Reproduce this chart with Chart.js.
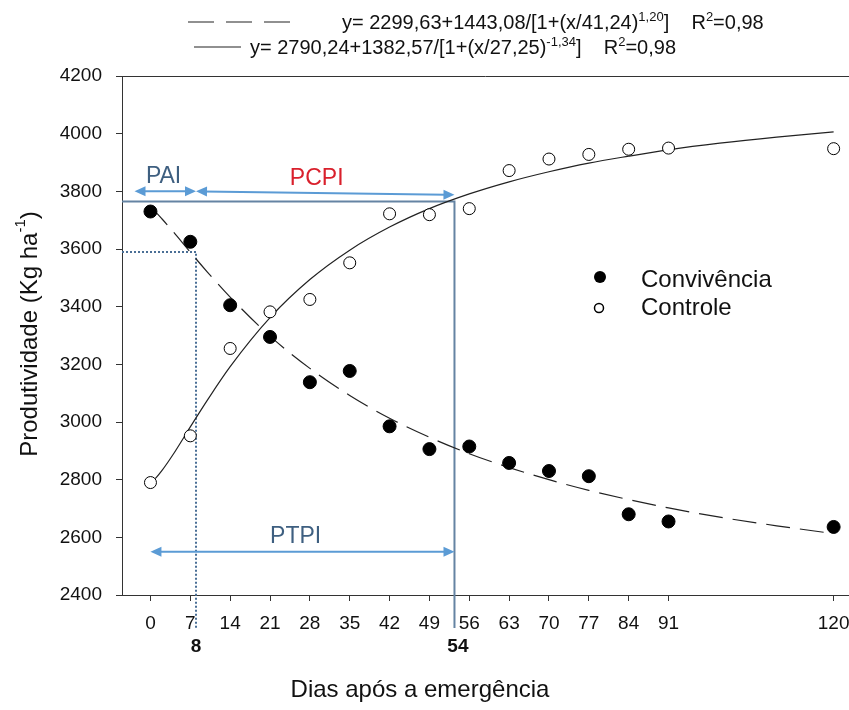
<!DOCTYPE html>
<html>
<head>
<meta charset="utf-8">
<script src="https://cdn.jsdelivr.net/npm/chart.js@4.4.0/dist/chart.umd.min.js"></script>
<style>
html, body { margin: 0; padding: 0; background: #fff; }
#wrap { width: 849px; height: 710px; }
</style>
</head>
<body>
<div id="wrap"><canvas id="chart" width="849" height="710"></canvas></div>
<script>
// observed points
const days = [0, 7, 14, 21, 28, 35, 42, 49, 56, 63, 70, 77, 84, 91, 120];
const convivencia = [3730, 3625, 3405, 3295, 3138, 3177, 2985, 2906, 2915, 2858, 2830, 2812, 2680, 2655, 2636];
const controle = [2790, 2952, 3255, 3382, 3425, 3552, 3722, 3719, 3740, 3872, 3912, 3928, 3946, 3950, 3948];

// fitted curves
const curveDays = [0, 1, 2, 4, 7, 10, 14, 21, 28, 35, 42, 49, 56, 63, 70, 77, 84, 91, 100, 110, 120];
const curveConvivencia = [3743, 3726, 3705, 3660, 3589, 3520, 3433, 3298, 3186, 3092, 3013, 2947, 2890, 2842, 2800, 2763, 2731, 2702, 2670, 2640, 2613];
const curveControle = [2790, 2807, 2831, 2888, 2983, 3076, 3192, 3362, 3494, 3596, 3676, 3740, 3791, 3833, 3868, 3898, 3922, 3944, 3967, 3988, 4006];

// axes
const xTickValues = [0, 7, 14, 21, 28, 35, 42, 49, 56, 63, 70, 77, 84, 91, 120];
const yMin = 2400, yMax = 4200, yStep = 200;

// critical periods (labels and where the guide lines were drawn)
const paiEnd = 8, ptpiEnd = 54;
const paiLine = 8, ptpiLine = 53.4;
const paiLevel = 3590, ptpiLevel = 3765;

const eqConvivencia = ['y= 2299,63+1443,08/[1+(x/41,24)', '1,20', ']    R', '2', '=0,98'];
const eqControle = ['y= 2790,24+1382,57/[1+(x/27,25)', '-1,34', ']    R', '2', '=0,98'];

const FONT = '"Liberation Sans", Arial, sans-serif';
const toXY = (xs, ys) => xs.map((x, i) => ({ x: x, y: ys[i] }));

function rich(ctx, parts, x, y, size, supSize, rise) {
    let cx = x;
    parts.forEach((t, i) => {
        const sup = i % 2 === 1;
        ctx.font = (sup ? supSize : size) + 'px ' + FONT;
        ctx.fillText(t, cx, sup ? y - rise : y);
        cx += ctx.measureText(t).width;
    });
    return cx - x;
}

function arrow(ctx, x1, y1, x2, y2) {
    const ang = Math.atan2(y2 - y1, x2 - x1);
    const head = (x, y, a) => {
        ctx.beginPath();
        ctx.moveTo(x, y);
        ctx.lineTo(x - 11 * Math.cos(a) + 5 * Math.sin(a), y - 11 * Math.sin(a) - 5 * Math.cos(a));
        ctx.lineTo(x - 11 * Math.cos(a) - 5 * Math.sin(a), y - 11 * Math.sin(a) + 5 * Math.cos(a));
        ctx.closePath();
        ctx.fill();
    };
    ctx.beginPath();
    ctx.moveTo(x1 + 8 * Math.cos(ang), y1 + 8 * Math.sin(ang));
    ctx.lineTo(x2 - 8 * Math.cos(ang), y2 - 8 * Math.sin(ang));
    ctx.stroke();
    head(x2, y2, ang);
    head(x1, y1, ang + Math.PI);
}

const annotate = {
    id: 'annotate',
    afterLayout(chart) {
        // let the plot run to the right edge of the canvas, like the original
        const x = chart.scales.x, a = chart.chartArea;
        x.right = chart.width;
        x.width = x.right - x.left;
        x.configure();
        a.right = chart.width;
        a.width = a.right - a.left;
    },
    beforeDatasetsDraw(chart) {
        const ctx = chart.ctx, sx = chart.scales.x, sy = chart.scales.y;
        const left = chart.chartArea.left;
        ctx.save();
        // PTPI box
        ctx.strokeStyle = '#6584a3';
        ctx.lineWidth = 2;
        ctx.beginPath();
        ctx.moveTo(left, sy.getPixelForValue(ptpiLevel));
        ctx.lineTo(sx.getPixelForValue(ptpiLine), sy.getPixelForValue(ptpiLevel));
        ctx.lineTo(sx.getPixelForValue(ptpiLine), 628);
        ctx.stroke();
        // PAI dotted
        ctx.strokeStyle = '#4a6f96';
        ctx.setLineDash([2, 2]);
        ctx.beginPath();
        ctx.moveTo(left, sy.getPixelForValue(paiLevel));
        ctx.lineTo(sx.getPixelForValue(paiLine), sy.getPixelForValue(paiLevel));
        ctx.lineTo(sx.getPixelForValue(paiLine), 628);
        ctx.stroke();
        ctx.restore();
    },
    afterDatasetsDraw(chart) {
        const ctx = chart.ctx, sx = chart.scales.x, sy = chart.scales.y;
        const X = v => sx.getPixelForValue(v), Y = v => sy.getPixelForValue(v);
        ctx.save();
        ctx.strokeStyle = '#5b9bd5';
        ctx.fillStyle = '#5b9bd5';
        ctx.lineWidth = 2;
        arrow(ctx, X(-2.8), Y(3800), X(paiLine), Y(3800));
        arrow(ctx, X(paiLine), Y(3800), X(ptpiLine), Y(3788));
        arrow(ctx, X(0), Y(2550), X(ptpiLine), Y(2550));

        ctx.textAlign = 'center';
        ctx.textBaseline = 'alphabetic';
        ctx.font = '23px ' + FONT;
        ctx.fillStyle = '#3e5f80';
        ctx.fillText('PAI', X(2.3), 183);
        ctx.fillText('PTPI', X(25.5), 543);
        ctx.fillStyle = '#d9202c';
        ctx.fillText('PCPI', X(29.2), 185);
        ctx.restore();
    },
    afterDraw(chart) {
        const ctx = chart.ctx, a = chart.chartArea;
        ctx.save();
        // top frame line
        ctx.strokeStyle = '#333';
        ctx.lineWidth = 1;
        ctx.beginPath();
        ctx.moveTo(a.left, a.top + 0.5);
        ctx.lineTo(a.right, a.top + 0.5);
        ctx.stroke();

        // equations
        ctx.fillStyle = '#111';
        ctx.textAlign = 'left';
        ctx.textBaseline = 'alphabetic';
        ctx.strokeStyle = '#222';
        ctx.lineWidth = 1.2;
        ctx.setLineDash([26, 12]);
        ctx.beginPath();
        ctx.moveTo(188, 22);
        ctx.lineTo(290, 22);
        ctx.stroke();
        ctx.setLineDash([]);
        ctx.beginPath();
        ctx.moveTo(194, 47);
        ctx.lineTo(241, 47);
        ctx.stroke();
        rich(ctx, eqConvivencia, 342, 29, 20, 13, 8);
        rich(ctx, eqControle, 250, 54, 20, 13, 8);

        // legend
        ctx.fillStyle = '#000';
        ctx.beginPath();
        ctx.arc(600, 277, 6, 0, Math.PI * 2);
        ctx.fill();
        ctx.lineWidth = 1.5;
        ctx.strokeStyle = '#000';
        ctx.beginPath();
        ctx.arc(599, 308, 4.5, 0, Math.PI * 2);
        ctx.stroke();
        ctx.fillStyle = '#111';
        ctx.font = '24px ' + FONT;
        ctx.fillText('Convivência', 641, 287);
        ctx.fillText('Controle', 641, 315);

        // bold period marks under the axis
        ctx.font = 'bold 19px ' + FONT;
        ctx.textAlign = 'center';
        ctx.fillText(String(paiEnd), chart.scales.x.getPixelForValue(paiEnd), 652);
        ctx.fillText(String(ptpiEnd), chart.scales.x.getPixelForValue(ptpiEnd), 652);

        // axis titles
        ctx.font = '24px ' + FONT;
        ctx.fillText('Dias após a emergência', 420, 697);

        ctx.translate(30, 334);
        ctx.rotate(-Math.PI / 2);
        ctx.textAlign = 'left';
        ctx.textBaseline = 'middle';
        const parts = ['Produtividade (Kg ha', '-1', ')'];
        ctx.font = '24px ' + FONT;
        let w = ctx.measureText(parts[0]).width + ctx.measureText(parts[2]).width;
        ctx.font = '15px ' + FONT;
        w += ctx.measureText(parts[1]).width;
        rich(ctx, parts, -w / 2, 0, 24, 15, 9);
        ctx.restore();
    }
};

new Chart(document.getElementById('chart'), {
    type: 'scatter',
    data: {
        datasets: [
            {
                label: 'Convivência',
                data: toXY(days, convivencia),
                pointRadius: 6.5,
                pointBackgroundColor: '#000',
                pointBorderColor: '#000',
                pointBorderWidth: 1
            },
            {
                label: 'Controle',
                data: toXY(days, controle),
                pointRadius: 6,
                pointBackgroundColor: '#fff',
                pointBorderColor: '#000',
                pointBorderWidth: 1
            },
            {
                label: 'Convivência ajuste',
                data: toXY(curveDays, curveConvivencia),
                showLine: true,
                pointRadius: 0,
                borderColor: '#222',
                borderWidth: 1.2,
                borderDash: [24, 10],
                cubicInterpolationMode: 'monotone'
            },
            {
                label: 'Controle ajuste',
                data: toXY(curveDays, curveControle),
                showLine: true,
                pointRadius: 0,
                borderColor: '#222',
                borderWidth: 1.2,
                cubicInterpolationMode: 'monotone'
            }
        ]
    },
    options: {
        responsive: false,
        animation: false,
        layout: { padding: { top: 76, left: 0, right: 0, bottom: 0 } },
        plugins: { legend: { display: false }, tooltip: { enabled: false } },
        scales: {
            x: {
                type: 'linear',
                min: -5,
                max: 122.7,
                afterBuildTicks: s => { s.ticks = xTickValues.map(v => ({ value: v })); },
                afterFit: s => { s.height = 115; s.paddingLeft = 0; s.paddingRight = 0; },
                grid: { drawOnChartArea: false, drawTicks: true, tickLength: 6, tickColor: '#333' },
                border: { display: true, color: '#333', width: 1 },
                ticks: { color: '#111', font: { family: FONT, size: 19 }, padding: 11, maxRotation: 0, autoSkip: false }
            },
            y: {
                min: yMin,
                max: yMax,
                afterFit: s => { s.width = 122; },
                grid: { drawOnChartArea: false, drawTicks: true, tickLength: 6, tickColor: '#333' },
                border: { display: true, color: '#333', width: 1 },
                ticks: { stepSize: yStep, color: '#111', font: { family: FONT, size: 19 }, padding: 14, callback: v => String(v) }
            }
        }
    },
    plugins: [annotate]
});
</script>
</body>
</html>
